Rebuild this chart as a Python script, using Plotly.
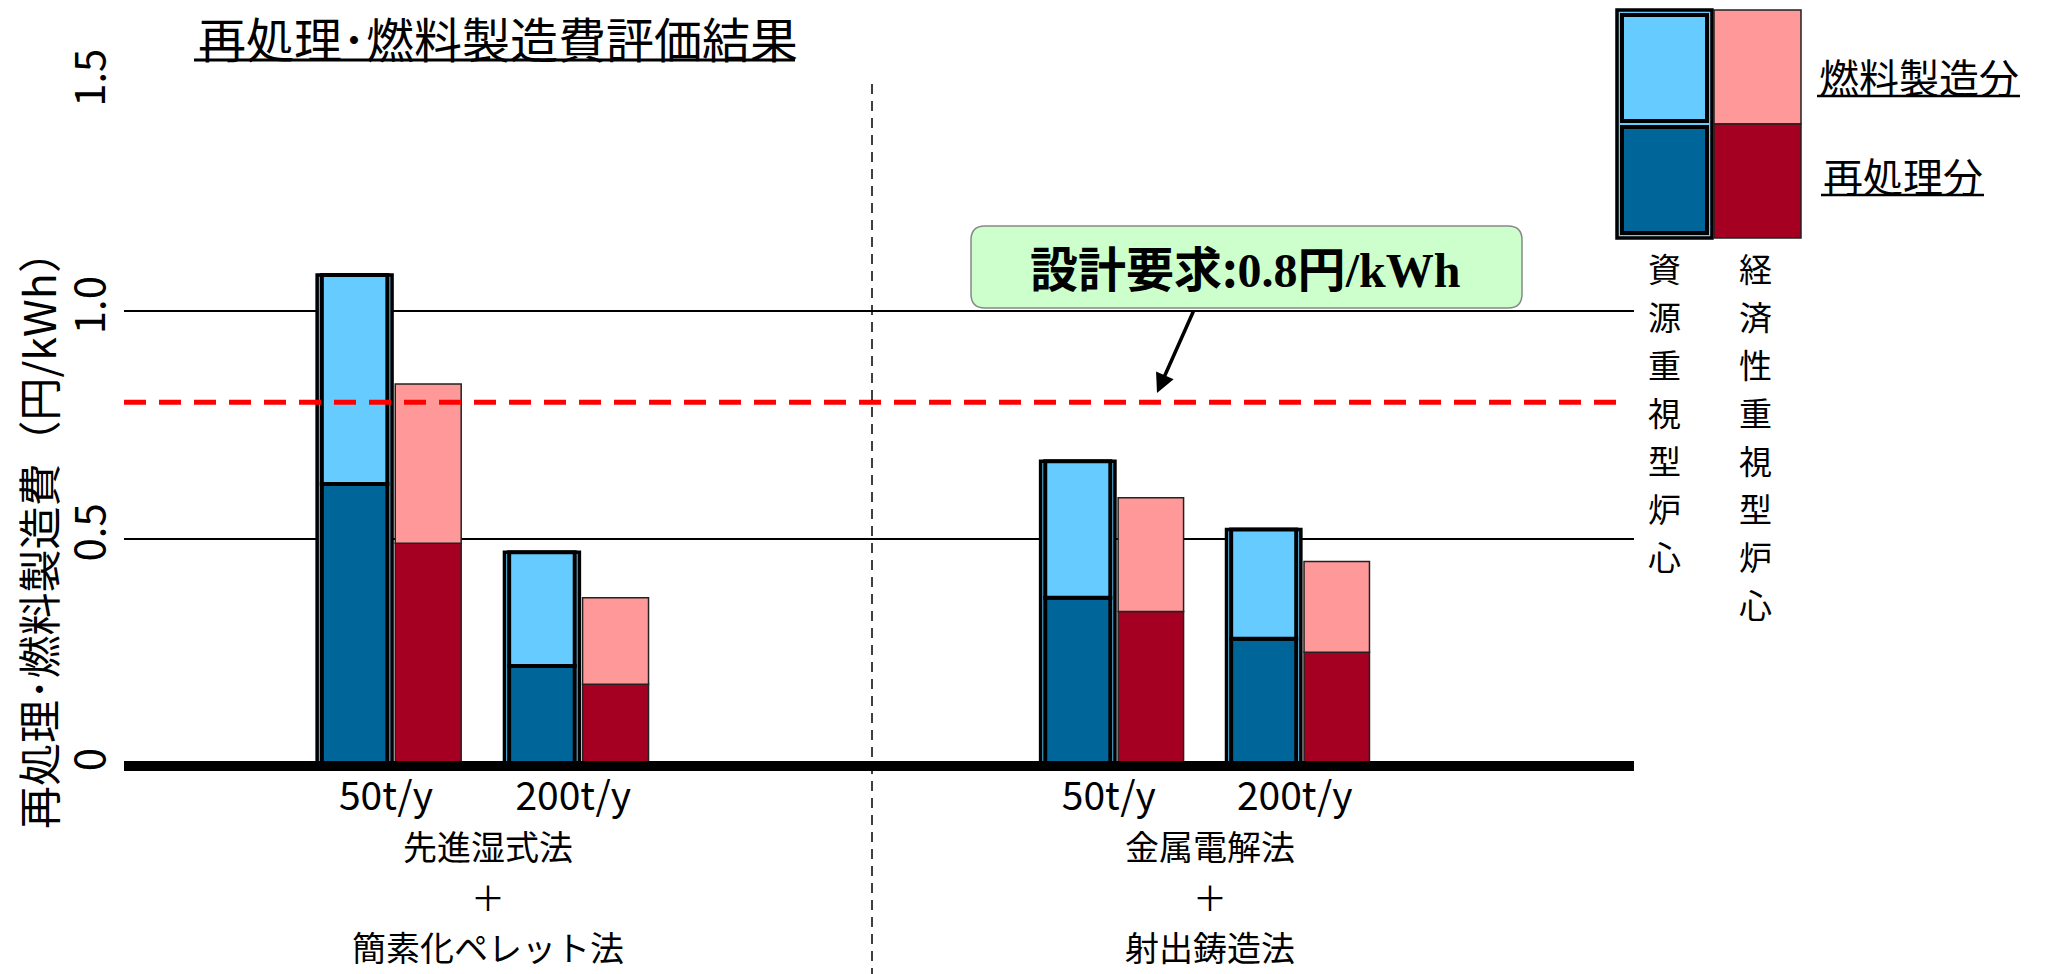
import plotly.graph_objects as go

# ---------------- data ----------------
sizes = ["50t/y", "200t/y"]
methods = [["先進湿式法", "＋", "簡素化ペレット法"], ["金属電解法", "＋", "射出鋳造法"]]
# 資源重視型炉心 (blue)
res_reproc = [[0.62, 0.22], [0.37, 0.28]]
res_fuel = [[0.46, 0.25], [0.30, 0.24]]
# 経済性重視型炉心 (red)
eco_reproc = [[0.49, 0.18], [0.34, 0.25]]
eco_fuel = [[0.35, 0.19], [0.25, 0.20]]
design_req = 0.8
y_ticks = [0, 0.5, 1.0, 1.5]
y_tick_text = ["0", "0.5", "1.0", "1.5"]

title_text = "再処理･燃料製造費評価結果"
ytitle_text = "再処理･燃料製造費（円/kWh）"
legend_fuel = "燃料製造分"
legend_reproc = "再処理分"
core_res = "資源重視型炉心"
core_eco = "経済性重視型炉心"
req_text = ("<b>設計要求:<span style='font-family:Liberation Serif'>0.8</span>円"
            "<span style='font-family:Liberation Serif'>/kWh</span></b>")

# ---------------- geometry / style ----------------
W, H = 2053, 974
L, R, T, B = 124, 1634, 84, 766
FONT = "Noto Sans CJK JP"
LB, DB = "#66CCFF", "#006699"
PK, DR = "#FF9999", "#A50021"


def px(x):
    return (x - L) / (R - L)


def py(y):
    return (B - y) / (B - T)


split = px(872)
xranges = [[-1.441, 2.552], [-1.317, 2.782]]
xaxes = ["x", "x2"]

fig = go.Figure()
for g in range(2):
    xa = xaxes[g]
    tot = [a + b for a, b in zip(res_reproc[g], res_fuel[g])]
    fig.add_trace(go.Bar(x=sizes, y=tot, xaxis=xa, yaxis="y", width=0.40, offset=-0.41,
                         marker=dict(color=LB, line=dict(color="black", width=3.5))))
    fig.add_trace(go.Bar(x=sizes, y=res_reproc[g], xaxis=xa, yaxis="y", width=0.35, offset=-0.385,
                         marker=dict(color=DB, line=dict(color="black", width=4))))
    fig.add_trace(go.Bar(x=sizes, y=res_fuel[g], base=res_reproc[g], xaxis=xa, yaxis="y",
                         width=0.35, offset=-0.385,
                         marker=dict(color=LB, line=dict(color="black", width=4))))
    fig.add_trace(go.Bar(x=sizes, y=eco_reproc[g], xaxis=xa, yaxis="y", width=0.352, offset=0.007,
                         marker=dict(color=DR, line=dict(color="#222222", width=1.5))))
    fig.add_trace(go.Bar(x=sizes, y=eco_fuel[g], base=eco_reproc[g], xaxis=xa, yaxis="y",
                         width=0.352, offset=0.007,
                         marker=dict(color=PK, line=dict(color="#222222", width=1.5))))

xcommon = dict(type="category", categoryorder="array", categoryarray=sizes,
               showgrid=False, zeroline=False, showline=False, ticks="",
               tickfont=dict(family=FONT, size=39, color="black"), ticklabelstandoff=4,
               ticklabelshift=-8, fixedrange=True)
fig.update_layout(
    width=W, height=H,
    margin=dict(l=L, r=W - R, t=T, b=H - B, pad=0),
    paper_bgcolor="white", plot_bgcolor="white",
    barmode="overlay", showlegend=False,
    xaxis=dict(domain=[0, split], range=xranges[0], anchor="y", **xcommon),
    xaxis2=dict(domain=[split, 1], range=xranges[1], anchor="y", **xcommon),
    yaxis=dict(range=[0, 1.5], tickvals=y_ticks, ticktext=y_tick_text, tickangle=-90,
               showgrid=True, gridcolor="black", gridwidth=2.2, zeroline=False, showline=False,
               ticks="", ticklabelstandoff=10,
               tickfont=dict(family=FONT, size=42, color="black")),
)

shapes = []
# zero line (paper-referenced so it is not clipped at the plot edge)
shapes.append(dict(type="line", xref="paper", yref="paper", x0=0, x1=1, y0=0, y1=0,
                   line=dict(color="black", width=10), layer="above"))
# red dashed design requirement
shapes.append(dict(type="line", xref="paper", yref="y", x0=0, x1=px(1623), y0=design_req, y1=design_req,
                   line=dict(color="#FF0000", width=5, dash="22px,13px"), layer="above"))
# vertical divider
shapes.append(dict(type="line", xref="paper", yref="paper", x0=split, x1=split, y0=1, y1=py(974),
                   line=dict(color="black", width=1.5, dash="10px,7px"), layer="above"))
# title underline
shapes.append(dict(type="line", xref="paper", yref="paper", x0=px(194), x1=px(795), y0=py(60), y1=py(60),
                   line=dict(color="black", width=3)))
# green rounded box
x0, x1, yt, yb = px(971), px(1522), py(226), py(308)
rx, ry = 14 / (R - L), 14 / (B - T)
path = (f"M {x0+rx},{yt} L {x1-rx},{yt} Q {x1},{yt} {x1},{yt-ry} L {x1},{yb+ry} "
        f"Q {x1},{yb} {x1-rx},{yb} L {x0+rx},{yb} Q {x0},{yb} {x0},{yb+ry} "
        f"L {x0},{yt-ry} Q {x0},{yt} {x0+rx},{yt} Z")
shapes.append(dict(type="path", xref="paper", yref="paper", path=path, fillcolor="#CCFFCC",
                   line=dict(color="#888888", width=1.5), layer="above"))


# legend blocks
def rect(xa, xb, ya, yb, fill, lc, lw):
    return dict(type="rect", xref="paper", yref="paper", x0=px(xa), x1=px(xb), y0=py(ya), y1=py(yb),
                fillcolor=fill, line=dict(color=lc, width=lw), layer="above")


shapes.append(rect(1617, 1712, 10, 238, LB, "black", 3.5))
shapes.append(rect(1622, 1707, 15, 121, LB, "black", 4))
shapes.append(rect(1622, 1707, 127, 233, DB, "black", 4))
shapes.append(rect(1714, 1801, 10, 124, PK, "#222222", 1.5))
shapes.append(rect(1714, 1801, 124, 238, DR, "#222222", 1.5))
# legend underlines
shapes.append(dict(type="line", xref="paper", yref="paper", x0=px(1817), x1=px(2020), y0=py(96), y1=py(96),
                   line=dict(color="black", width=2.5)))
shapes.append(dict(type="line", xref="paper", yref="paper", x0=px(1821), x1=px(1984), y0=py(195), y1=py(195),
                   line=dict(color="black", width=2.5)))
fig.update_layout(shapes=shapes)

ann = []
ann.append(dict(text=title_text, xref="paper", yref="paper", x=px(196), y=py(37),
                xanchor="left", yanchor="middle", showarrow=False,
                font=dict(family=FONT, size=48, color="black")))
ann.append(dict(text=ytitle_text, xref="paper", yref="paper", x=px(37), y=py(530),
                xanchor="center", yanchor="middle", textangle=-90, showarrow=False,
                font=dict(family=FONT, size=43, color="black")))
ann.append(dict(text=req_text, xref="paper", yref="paper", x=px(1245), y=py(266),
                xanchor="center", yanchor="middle", showarrow=False,
                font=dict(family=FONT, size=48, color="black")))
ann.append(dict(text="", xref="paper", yref="paper", x=px(1157), y=py(393), ax=37, ay=-83,
                showarrow=True, arrowhead=2, arrowsize=1.1, arrowwidth=3.5, arrowcolor="black", standoff=0))
ann.append(dict(text=legend_fuel, xref="paper", yref="paper", x=px(1817), y=py(76),
                xanchor="left", yanchor="middle", showarrow=False,
                font=dict(family=FONT, size=40, color="black")))
ann.append(dict(text=legend_reproc, xref="paper", yref="paper", x=px(1821), y=py(175),
                xanchor="left", yanchor="middle", showarrow=False,
                font=dict(family=FONT, size=40, color="black")))
# vertical core-type labels, one character per line
for label, xc in ((core_res, 1664), (core_eco, 1755)):
    for i, ch in enumerate(label):
        ann.append(dict(text=ch, xref="paper", yref="paper", x=px(xc), y=py(268 + 48 * i),
                        xanchor="center", yanchor="middle", showarrow=False,
                        font=dict(family=FONT, size=33, color="black")))
# process names under each group, one line each
for g in range(2):
    for i, line in enumerate(methods[g]):
        ann.append(dict(text=line, xref=xaxes[g], yref="paper", x=0.5, y=py(846 + 50 * i),
                        xanchor="center", yanchor="middle", showarrow=False,
                        font=dict(family=FONT, size=34, color="black")))
fig.update_layout(annotations=ann)

fig.write_html("out.html")
